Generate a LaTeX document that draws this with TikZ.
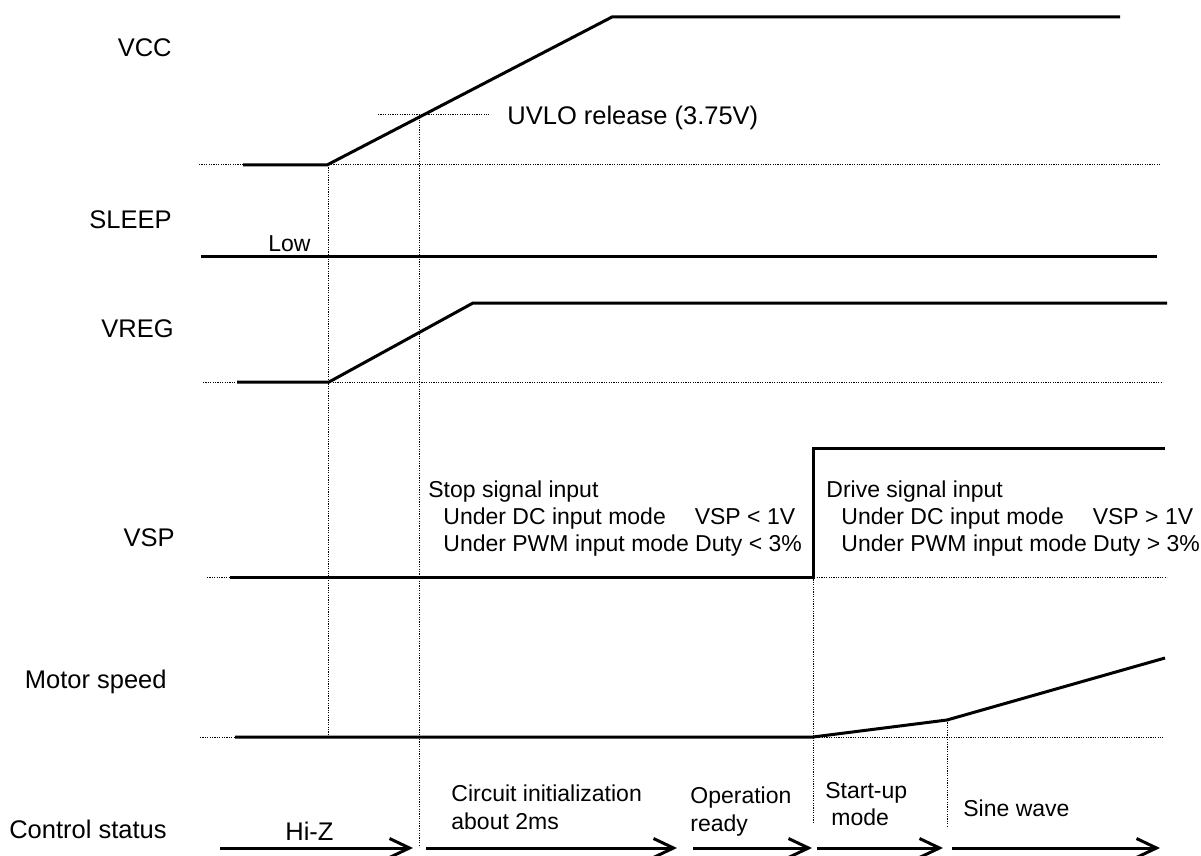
\documentclass[tikz,border=0pt]{standalone}
\usepackage{fontspec}
\setmainfont{Liberation Sans}
\usetikzlibrary{arrows.meta}
\begin{document}
\begin{tikzpicture}[x=0.5pt,y=-0.5pt,
  sig/.style={line width=1.5pt, line join=miter},
  guide/.style={line width=0.5pt, dash pattern=on 0.6pt off 0.6pt},
  big/.style={font=\fontsize{12.75}{15}\selectfont, inner sep=0pt},
  small/.style={font=\fontsize{11.5}{13.5}\selectfont, inner sep=0pt, align=left},
  smallb/.style={font=\fontsize{11.5}{14}\selectfont, inner sep=0pt, align=left},
  statarrow/.style={line width=1.5pt, -{Straight Barb[length=10pt,width=9.5pt]}}]
\useasboundingbox (0,0) rectangle (1201,856);

% ---------- labels ----------
\node[big, anchor=base east] (lvcc)   at (172,57)  {VCC};
\node[big, anchor=base east] (lsleep) at (172,228) {SLEEP};
\node[big, anchor=base east] (lvreg)  at (174,337) {VREG};
\node[big, anchor=base east] (lvsp)   at (175,546) {VSP};
\node[big, anchor=base east] (lmot)   at (167,688) {Motor speed};
\node[big, anchor=base east] (lctl)   at (167,838) {Control status};

% ---------- key points ----------
\coordinate (vccA) at (243,165);
\coordinate (vccB) at (327,165);
\coordinate (vccC) at (612,17);
\coordinate (vccD) at (1120,17);
\coordinate (slA)  at (201,257);
\coordinate (slB)  at (1157,257);
\coordinate (vrA)  at (237,382);
\coordinate (vrB)  at (329,382);
\coordinate (vrC)  at (473,303);
\coordinate (vrD)  at (1167,303);
\coordinate (vsA)  at (230,577);
\coordinate (vsB)  at (813,577);
\coordinate (vsC)  at (813,448);
\coordinate (vsD)  at (1165,448);
\coordinate (mtA)  at (235,737);
\coordinate (mtB)  at (813,737);
\coordinate (mtC)  at (947,720);
\coordinate (mtD)  at (1165,658);

% ---------- guides ----------
\draw[guide] (199,165) -- (1160,165);
\draw[guide] (378,115) -- (489,115);
\draw[guide] (203,382) -- (1163,382);
\draw[guide] (207,577) -- (1167,577);
\draw[guide] (200,737) -- (1163,737);
\draw[guide] (328,165) -- (328,737);
\draw[guide] (419,115) -- (419,847);
\draw[guide] (vsB) -- (813,824);
\draw[guide] (mtC) -- (947,828);

% ---------- waveforms ----------
\draw[sig] (vccA) -- (vccB) -- (vccC) -- (vccD);
\draw[sig] (slA) -- (slB);
\draw[sig] (vrA) -- (vrB) -- (vrC) -- (vrD);
\draw[sig] (vsA) -- (vsB) -- (vsC) -- (vsD);
\draw[sig] (mtA) -- (mtB) -- (mtC) -- (mtD);

% ---------- texts ----------
\node[big, anchor=base west] (tuvlo) at (507,125) {UVLO release (3.75V)};
\node[small, anchor=base west] (tlow)  at (268,251) {Low};
\node[small, anchor=base west] (tstop) at (428,551)
  {Stop signal input\\\hspace*{7.5pt}Under DC input mode\hspace{14.5pt}VSP < 1V\\\hspace*{7.5pt}Under PWM input mode Duty < 3\%};
\node[small, anchor=base west] (tdrive) at (826,551)
  {Drive signal input\\\hspace*{7.5pt}Under DC input mode\hspace{14.5pt}VSP > 1V\\\hspace*{7.5pt}Under PWM input mode Duty > 3\%};

% ---------- control status ----------
\coordinate (s0a) at (220,848); \coordinate (s0b) at (413,848);
\coordinate (s1a) at (426,848); \coordinate (s1b) at (677,848);
\coordinate (s2a) at (693,848); \coordinate (s2b) at (812,848);
\coordinate (s3a) at (817,848); \coordinate (s3b) at (943,848);
\coordinate (s4a) at (952,848); \coordinate (s4b) at (1160,848);
\draw[statarrow] (s0a) -- (s0b);
\draw[statarrow] (s1a) -- (s1b);
\draw[statarrow] (s2a) -- (s2b);
\draw[statarrow] (s3a) -- (s3b);
\draw[statarrow] (s4a) -- (s4b);

\node[big, anchor=base west] (thiz) at (285,840) {Hi-Z};
\node[smallb, anchor=base west] (tinit) at (451,829) {Circuit initialization\\about 2ms};
\node[smallb, anchor=base west] (tready) at (690,831) {Operation\\ready};
\node[small, anchor=base west] (tstart) at (825,825) {Start-up\\\hspace*{3pt}mode};
\node[small, anchor=base west] (tsine) at (963,816) {Sine wave};
\end{tikzpicture}
\end{document}
